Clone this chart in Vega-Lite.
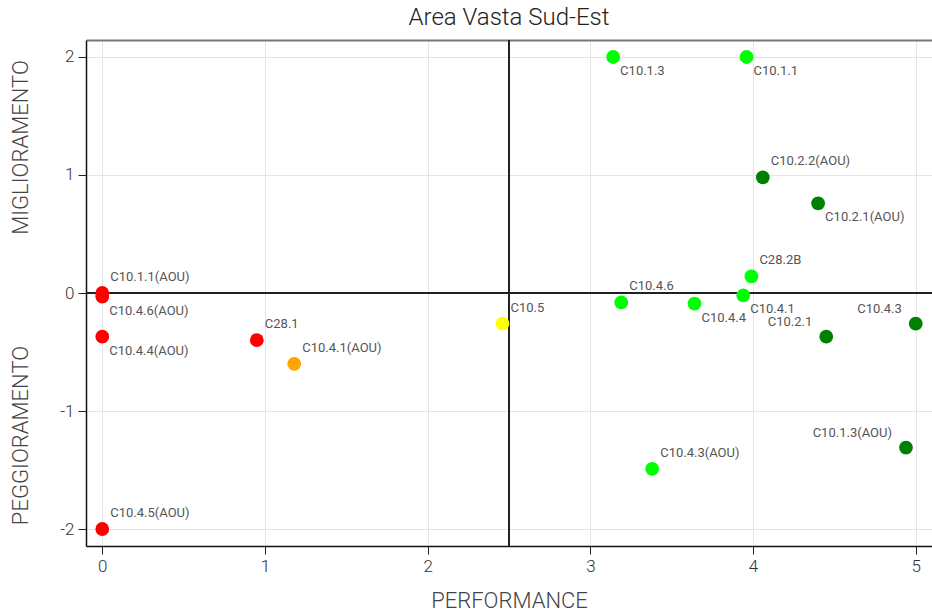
{
  "$schema": "https://vega.github.io/schema/vega-lite/v6.json",
  "autosize": {"type": "none"},
  "padding": {"left": 86, "top": 40, "right": 0, "bottom": 67},
  "width": 846,
  "height": 506,
  "title": {"text": "Area Vasta Sud-Est", "fontSize": 24, "fontWeight": 300, "color": "#222", "font": "Roboto", "offset": 9, "anchor": "middle"},
  "config": {
    "view": {"stroke": null},
    "font": "Roboto",
    "axis": {
      "labelFont": "Roboto", "labelFontSize": 17, "labelColor": "#333", "labelFontWeight": 300,
      "titleFont": "Roboto", "titleFontSize": 22, "titleFontWeight": 300, "titleColor": "#444",
      "tickColor": "#222", "tickSize": 8, "labelPadding": 4,
      "domainColor": "#111", "domainWidth": 1.5,
      "gridColor": "#e5e5e5", "gridWidth": 1
    }
  },
  "data": {"values": [
    {"indicatore": "C10.1.1(AOU)", "performance": 0, "variazione": 0, "fascia": "rosso"},
    {"indicatore": "C10.4.6(AOU)", "performance": 0, "variazione": -0.03, "fascia": "rosso"},
    {"indicatore": "C10.4.4(AOU)", "performance": 0, "variazione": -0.37, "fascia": "rosso"},
    {"indicatore": "C10.4.5(AOU)", "performance": 0, "variazione": -2, "fascia": "rosso"},
    {"indicatore": "C28.1", "performance": 0.95, "variazione": -0.4, "fascia": "rosso"},
    {"indicatore": "C10.4.1(AOU)", "performance": 1.18, "variazione": -0.6, "fascia": "arancione"},
    {"indicatore": "C10.5", "performance": 2.46, "variazione": -0.26, "fascia": "giallo"},
    {"indicatore": "C10.4.6", "performance": 3.19, "variazione": -0.08, "fascia": "verde"},
    {"indicatore": "C10.4.4", "performance": 3.64, "variazione": -0.09, "fascia": "verde"},
    {"indicatore": "C10.4.1", "performance": 3.94, "variazione": -0.02, "fascia": "verde"},
    {"indicatore": "C28.2B", "performance": 3.99, "variazione": 0.14, "fascia": "verde"},
    {"indicatore": "C10.1.3", "performance": 3.14, "variazione": 2, "fascia": "verde"},
    {"indicatore": "C10.1.1", "performance": 3.96, "variazione": 2, "fascia": "verde"},
    {"indicatore": "C10.4.3(AOU)", "performance": 3.38, "variazione": -1.49, "fascia": "verde"},
    {"indicatore": "C10.2.2(AOU)", "performance": 4.06, "variazione": 0.98, "fascia": "verde scuro"},
    {"indicatore": "C10.2.1(AOU)", "performance": 4.4, "variazione": 0.76, "fascia": "verde scuro"},
    {"indicatore": "C10.2.1", "performance": 4.45, "variazione": -0.37, "fascia": "verde scuro"},
    {"indicatore": "C10.4.3", "performance": 5, "variazione": -0.26, "fascia": "verde scuro"},
    {"indicatore": "C10.1.3(AOU)", "performance": 4.94, "variazione": -1.31, "fascia": "verde scuro"}
  ]},
  "layer": [
    {
      "mark": {"type": "rule", "color": "#222", "strokeWidth": 1.3},
      "encoding": {
        "y": {"datum": 0, "type": "quantitative", "scale": {"domain": [-2.144, 2.144], "nice": false},
              "axis": {"orient": "left", "title": "PEGGIORAMENTO", "labels": false, "ticks": false, "domain": false, "grid": false,
                       "titleX": -59, "titleY": 395, "titleAngle": 270, "titleAlign": "center", "titleBaseline": "alphabetic"}}
      }
    },
    {
      "mark": {"type": "rule", "color": "#222", "strokeWidth": 1.3},
      "encoding": {
        "x": {"datum": 2.5, "type": "quantitative", "scale": {"domain": [-0.1, 5.1], "nice": false, "zero": false},
              "axis": {"orient": "top", "title": null, "labels": false, "ticks": false, "grid": false, "domainColor": "#777", "domainWidth": 2}}
      }
    },
    {
      "mark": {"type": "circle", "size": 190, "opacity": 1},
      "encoding": {
        "x": {"field": "performance", "type": "quantitative", "scale": {"domain": [-0.1, 5.1], "nice": false, "zero": false},
              "axis": {"orient": "bottom", "title": "PERFORMANCE", "values": [0, 1, 2, 3, 4, 5], "grid": true,
                       "titleY": 61, "titleBaseline": "alphabetic"}},
        "y": {"field": "variazione", "type": "quantitative", "scale": {"domain": [-2.144, 2.144], "nice": false},
              "axis": {"orient": "left", "title": "MIGLIORAMENTO", "values": [-2, -1, 0, 1, 2], "grid": true,
                       "labelExpr": "datum.value < 0 ? '-' + abs(datum.value) : '' + datum.value",
                       "titleX": -59, "titleY": 107, "titleAngle": 270, "titleAlign": "center", "titleBaseline": "alphabetic"}},
        "color": {"field": "fascia", "type": "nominal",
                  "scale": {"domain": ["rosso", "arancione", "giallo", "verde", "verde scuro"],
                            "range": ["#ff0000", "#ffa500", "#ffff00", "#00ff00", "#008000"]},
                  "legend": null}
      }
    },
    {
      "transform": [{"filter": {"field": "indicatore", "oneOf": ["C10.1.1(AOU)", "C10.4.5(AOU)", "C28.1", "C10.4.1(AOU)", "C10.5", "C10.4.6", "C28.2B", "C10.2.2(AOU)", "C10.4.3(AOU)"]}}],
      "mark": {"type": "text", "align": "left", "baseline": "middle", "dx": 8, "dy": -16, "fontSize": 13, "color": "#555", "font": "Roboto"},
      "encoding": {
        "x": {"field": "performance", "type": "quantitative", "axis": null},
        "y": {"field": "variazione", "type": "quantitative", "axis": null},
        "text": {"field": "indicatore"}
      }
    },
    {
      "transform": [{"filter": {"field": "indicatore", "oneOf": ["C10.4.6(AOU)", "C10.4.4(AOU)", "C10.4.4", "C10.4.1", "C10.1.3", "C10.1.1", "C10.2.1(AOU)"]}}],
      "mark": {"type": "text", "align": "left", "baseline": "middle", "dx": 7, "dy": 14, "fontSize": 13, "color": "#555", "font": "Roboto"},
      "encoding": {
        "x": {"field": "performance", "type": "quantitative", "axis": null},
        "y": {"field": "variazione", "type": "quantitative", "axis": null},
        "text": {"field": "indicatore"}
      }
    },
    {
      "transform": [{"filter": {"field": "indicatore", "oneOf": ["C10.2.1", "C10.4.3", "C10.1.3(AOU)"]}}],
      "mark": {"type": "text", "align": "right", "baseline": "middle", "dx": -14, "dy": -15, "fontSize": 13, "color": "#555", "font": "Roboto"},
      "encoding": {
        "x": {"field": "performance", "type": "quantitative", "axis": null},
        "y": {"field": "variazione", "type": "quantitative", "axis": null},
        "text": {"field": "indicatore"}
      }
    }
  ],
  "resolve": {"axis": {"x": "independent", "y": "independent"}}
}
